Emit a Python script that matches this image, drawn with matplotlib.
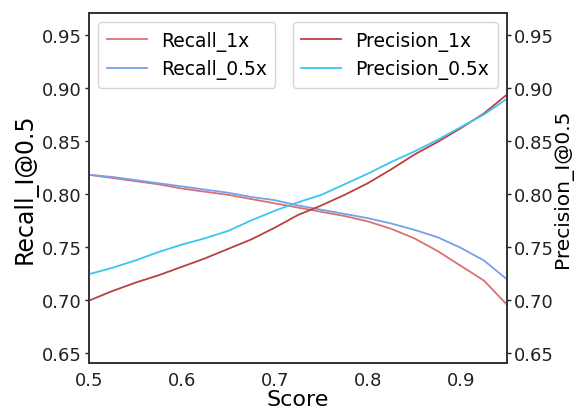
import numpy as np
import matplotlib
matplotlib.use('Agg')
import matplotlib.pyplot as plt

# score thresholds
score = [0.500, 0.525, 0.550, 0.575, 0.600, 0.625, 0.650, 0.675, 0.700, 0.725,
         0.750, 0.775, 0.800, 0.825, 0.850, 0.875, 0.900, 0.925, 0.950]

recall_1x = [0.818, 0.815, 0.812, 0.809, 0.805, 0.802, 0.799, 0.795, 0.791, 0.787,
             0.783, 0.779, 0.774, 0.767, 0.758, 0.746, 0.732, 0.718, 0.695]
recall_05x = [0.818, 0.816, 0.813, 0.810, 0.807, 0.804, 0.801, 0.797, 0.794, 0.789,
              0.785, 0.781, 0.777, 0.772, 0.766, 0.759, 0.749, 0.737, 0.719]
precision_1x = [0.699, 0.708, 0.716, 0.723, 0.731, 0.739, 0.748, 0.757, 0.768, 0.780,
                0.789, 0.799, 0.810, 0.823, 0.837, 0.849, 0.862, 0.876, 0.894]
precision_05x = [0.724, 0.730, 0.737, 0.745, 0.752, 0.758, 0.765, 0.775, 0.784, 0.792,
                 0.799, 0.809, 0.819, 0.830, 0.840, 0.851, 0.863, 0.875, 0.890]

yticks = [0.65, 0.70, 0.75, 0.80, 0.85, 0.90, 0.95]
xticks = [0.5, 0.6, 0.7, 0.8, 0.9]

fig = plt.figure(figsize=(5.77, 4.10), dpi=100)
ax1 = fig.add_axes([0.154, 0.112, 0.725, 0.854])
ax2 = ax1.twinx()

# recall on the left axis
ax1.plot(score, recall_1x, color='#d87272', lw=1.3, label='Recall_1x')
ax1.plot(score, recall_05x, color='#789fec', lw=1.3, label='Recall_0.5x')
# precision on the right axis
ax2.plot(score, precision_1x, color='#bc4040', lw=1.3, label='Precision_1x')
ax2.plot(score, precision_05x, color='#3ec4f2', lw=1.3, label='Precision_0.5x')

for ax in (ax1, ax2):
    ax.set_ylim(0.640, 0.971)
    ax.set_yticks(yticks)
    ax.set_yticklabels(['%.2f' % v for v in yticks])
    ax.tick_params(labelsize=13, colors='#222222', length=3, width=1, pad=2)
    for s in ax.spines.values():
        s.set_color('#333333')
        s.set_linewidth(1.2)

ax1.set_xlim(0.5, 0.95)
ax1.set_xticks(xticks)
ax1.tick_params(axis='x', length=0, pad=6)

ax1.set_xlabel('Score', fontsize=16, labelpad=0)
ax1.set_ylabel('Recall_I@0.5', fontsize=17, labelpad=3)
ax2.set_ylabel('Precision_I@0.5', fontsize=14.5)
# squeeze the right label against the figure edge
ax2.yaxis.set_label_coords(1.110, 0.5)

leg_kw = dict(fontsize=13.5, borderaxespad=0.5, handlelength=2.15,
              handletextpad=0.75, borderpad=0.45, labelspacing=0.45)
ax1.legend(loc='upper left', **leg_kw)
ax2.legend(loc='upper right', **leg_kw)

fig.savefig('out.png', dpi=100)
